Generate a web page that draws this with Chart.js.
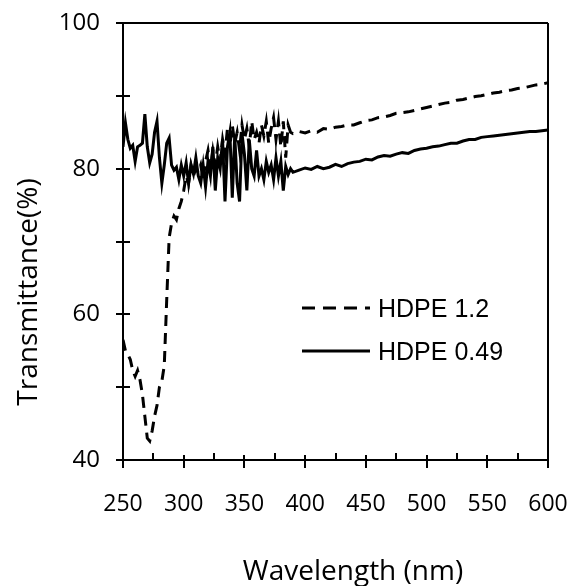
<!DOCTYPE html>
<html>
<head>
<meta charset="utf-8">
<script src="https://cdn.jsdelivr.net/npm/chart.js@4.4.1/dist/chart.umd.min.js"></script>
<style>
  html, body { margin: 0; padding: 0; background: #fff; }
  #wrap { width: 573px; height: 586px; }
</style>
</head>
<body>
<div id="wrap"><canvas id="uvChart" width="573" height="586"></canvas></div>
<script>
// Comprimento de onda (nm)
const wavelength = [
    250, 252, 254, 256, 258, 260, 262, 264, 266, 268, 270, 272, 274, 276, 278, 280,
    282, 284, 286, 288, 290, 292, 294, 296, 298, 300, 302, 304, 306, 308, 310, 312,
    314, 316, 318, 320, 322, 324, 326, 328, 330, 332, 334, 336, 338, 340, 342, 344,
    346, 348, 350, 352, 354, 356, 358, 360, 362, 364, 366, 368, 370, 372, 374, 376,
    378, 380, 382, 384, 386, 388, 390,
    395, 400, 405, 410, 415, 420, 425, 430, 435, 440, 445, 450, 455, 460, 465, 470,
    475, 480, 485, 490, 495, 500, 505, 510, 515, 520, 525, 530, 535, 540, 545, 550,
    555, 560, 565, 570, 575, 580, 585, 590, 595, 600
];

// HDPE 1.2 (tracejado)
const hdpe12 = [
    56.5, 55.0, 54.5, 53.8, 52.3, 51.5, 52.3, 51.0, 49.0, 46.0, 43.0, 42.6, 44.0, 46.0, 47.5, 50.0,
    50.8, 53.0, 62.0, 70.5, 72.5, 73.5, 73.0, 74.5, 75.5, 77.0, 79.0, 78.0, 80.5, 79.0, 80.0, 79.5,
    80.5, 78.5, 81.0, 82.5, 80.0, 82.5, 80.5, 83.0, 81.0, 84.0, 82.0, 85.5, 83.0, 86.0, 83.5, 85.0,
    82.5, 86.0, 84.0, 85.5, 83.0, 86.5, 84.0, 85.0, 83.5, 86.0, 84.5, 86.5, 83.5, 85.5, 87.0, 84.0,
    86.5, 83.0, 86.5, 81.5, 86.0, 85.0, 84.8,
    85.1, 84.9, 85.2, 85.0, 85.5, 85.4, 85.7, 85.8, 86.0, 86.0, 86.3, 86.6, 86.7, 87.0, 87.1, 87.3,
    87.6, 87.7, 87.8, 88.0, 88.2, 88.4, 88.6, 88.8, 89.0, 89.1, 89.4, 89.5, 89.7, 89.9, 90.0, 90.2,
    90.4, 90.5, 90.7, 90.8, 91.0, 91.1, 91.3, 91.5, 91.6, 91.8
];

// HDPE 0.49 (linha cheia)
const hdpe049 = [
    83.0, 86.3, 84.0, 82.8, 83.2, 81.0, 83.0, 83.2, 83.5, 87.5, 83.0, 80.8, 82.0, 85.0, 86.5, 81.5,
    78.0, 80.5, 83.5, 84.2, 80.5, 79.8, 80.2, 78.5, 80.5, 79.0, 80.8, 78.0, 80.5, 79.3, 81.5, 79.0,
    78.0, 80.5, 77.5, 81.0, 79.0, 83.0, 77.0, 81.5, 80.0, 84.0, 75.5, 83.0, 85.0, 76.0, 84.5, 78.0,
    75.5, 84.8, 82.0, 77.0, 84.0, 80.0, 79.0, 82.5, 79.0, 80.0, 78.5, 81.0, 79.5, 80.5, 78.5, 81.5,
    79.0, 81.0, 77.0, 80.3, 79.2, 80.0, 79.5,
    79.8, 80.1, 79.9, 80.3, 80.0, 80.2, 80.6, 80.3, 80.7, 80.9, 81.0, 81.3, 81.2, 81.6, 81.8, 81.7,
    82.0, 82.2, 82.1, 82.5, 82.7, 82.8, 83.0, 83.1, 83.3, 83.5, 83.5, 83.8, 84.0, 84.0, 84.3, 84.4,
    84.5, 84.6, 84.7, 84.8, 84.9, 85.0, 85.1, 85.1, 85.2, 85.3
];

const seriesNames = ['HDPE 1.2', 'HDPE 0.49'];
const xMajor = [250, 300, 350, 400, 450, 500, 550, 600];
const xMinor = [275, 325, 375, 425, 475, 525, 575];
const yLabels = [40, 60, 80, 100];
const yTicks = [40, 50, 60, 70, 80, 90, 100];

const toPoints = (ys) => wavelength.map((x, i) => ({ x: x, y: ys[i] }));

// eixos, marcas, legenda e títulos desenhados à mão
const frame = {
    id: 'frame',
    afterDraw(chart) {
        const c = chart.ctx;
        const xs = chart.scales.x, ys = chart.scales.y;
        const a = chart.chartArea;
        c.save();
        c.strokeStyle = '#000';
        c.lineWidth = 2;
        c.beginPath();
        c.moveTo(a.left, a.top); c.lineTo(a.left, a.bottom);
        c.moveTo(a.left - 7, a.bottom); c.lineTo(a.right, a.bottom);
        c.moveTo(a.left - 7, a.top); c.lineTo(a.right, a.top);
        c.moveTo(a.right, a.top); c.lineTo(a.right, a.bottom);
        yTicks.forEach(v => {
            const y = Math.round(ys.getPixelForValue(v));
            c.moveTo(a.left - 7, y); c.lineTo(a.left + 7, y);
        });
        xMajor.forEach(v => {
            const x = Math.round(xs.getPixelForValue(v));
            c.moveTo(x, a.bottom - 5); c.lineTo(x, a.bottom + 8);
        });
        xMinor.forEach(v => {
            const x = Math.round(xs.getPixelForValue(v));
            c.moveTo(x, a.bottom - 7); c.lineTo(x, a.bottom);
        });
        c.stroke();

        // legenda
        c.lineWidth = 3;
        c.font = '25px "Liberation Sans", Arial, sans-serif';
        c.fillStyle = '#000';
        c.textBaseline = 'middle';
        const rows = [308, 351];
        chart.data.datasets.forEach((ds, i) => {
            c.setLineDash(ds.borderDash ? [13, 8] : []);
            c.beginPath();
            c.moveTo(302, rows[i]); c.lineTo(370, rows[i]);
            c.stroke();
            c.setLineDash([]);
            c.fillText(ds.label, 378, rows[i] + 2);
        });

        // títulos dos eixos
        c.font = '28px "Open Sans", sans-serif';
        c.textAlign = 'center';
        c.textBaseline = 'alphabetic';
        c.fillText('Wavelength (nm)', 353, 580);
        c.translate(37, 292);
        c.rotate(-Math.PI / 2);
        c.fillText('Transmittance(%)', 0, 0);
        c.restore();
    }
};

window.onload = function () {
    const ctx = document.getElementById('uvChart').getContext('2d');
    new Chart(ctx, {
        type: 'line',
        data: {
            datasets: [
                {
                    label: seriesNames[0],
                    data: toPoints(hdpe12),
                    borderColor: '#000',
                    borderWidth: 3,
                    borderDash: [11, 7],
                    pointRadius: 0,
                    tension: 0,
                    fill: false
                },
                {
                    label: seriesNames[1],
                    data: toPoints(hdpe049),
                    borderColor: '#000',
                    borderWidth: 3,
                    pointRadius: 0,
                    tension: 0,
                    fill: false
                }
            ]
        },
        options: {
            responsive: false,
            animation: false,
            layout: { padding: { left: 0, right: 25, top: 23, bottom: 0 } },
            plugins: { legend: { display: false }, tooltip: { enabled: false } },
            scales: {
                x: {
                    type: 'linear',
                    min: 250, max: 600,
                    afterFit(s) { s.height = 126; s.paddingLeft = 0; s.paddingRight = 0; },
                    afterBuildTicks(s) { s.ticks = xMajor.map(v => ({ value: v })); },
                    grid: { display: false, drawTicks: false },
                    border: { display: false },
                    ticks: {
                        color: '#000',
                        padding: 31,
                        maxRotation: 0,
                        font: { family: 'Open Sans', size: 23 }
                    }
                },
                y: {
                    min: 40, max: 100,
                    afterFit(s) { s.width = 123; s.paddingTop = 0; s.paddingBottom = 0; },
                    afterBuildTicks(s) { s.ticks = yLabels.map(v => ({ value: v })); },
                    grid: { display: false, drawTicks: false },
                    border: { display: false },
                    ticks: {
                        color: '#000',
                        padding: 23,
                        font: { family: 'Open Sans', size: 24 }
                    }
                }
            }
        },
        plugins: [frame]
    });
};
</script>
</body>
</html>
